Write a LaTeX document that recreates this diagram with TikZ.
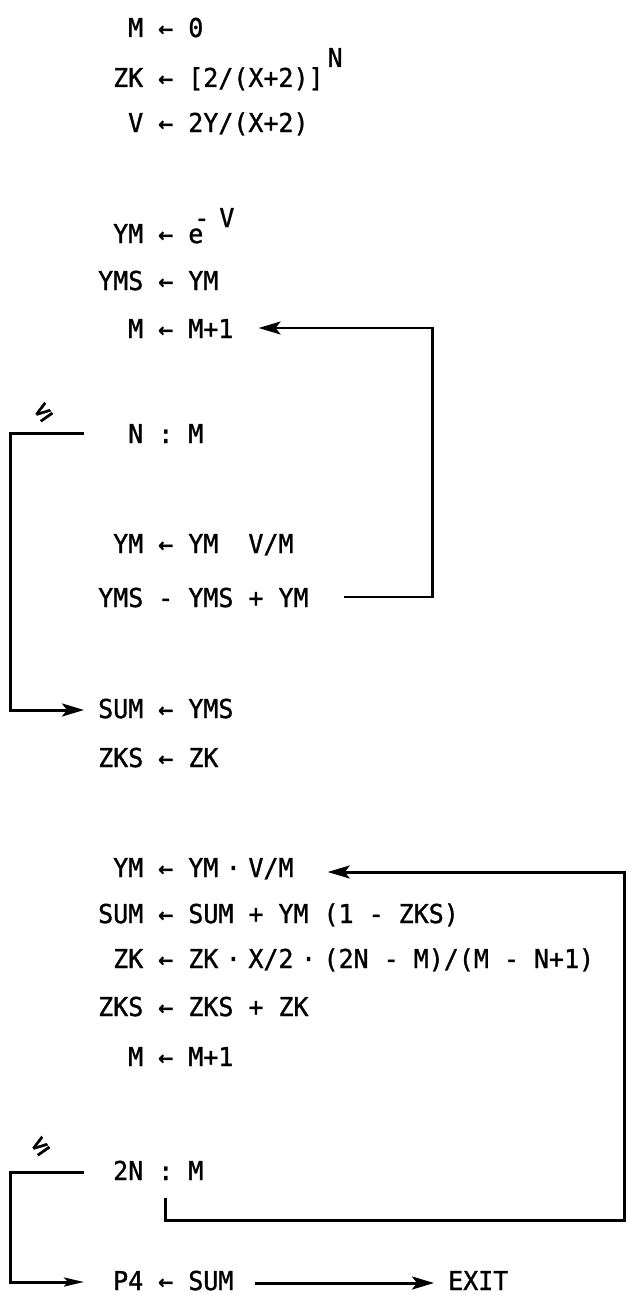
\documentclass[tikz,border=0pt]{standalone}
\usepackage{fontspec}
\setmonofont{DejaVu Sans Mono}[FakeStretch=0.96,FakeBold=1.2]
\usetikzlibrary{arrows.meta,calc}
\newcommand\codefont{\ttfamily\fontsize{26pt}{30pt}\selectfont}
\newcommand\sdot{\hspace{-7.5pt} · \hspace{-7.5pt}}
\begin{document}
\begin{tikzpicture}[x=1pt,y=-1pt,
  txt/.style={anchor=base west,inner sep=0pt,font=\codefont},
  rel/.style={inner sep=0pt,font=\ttfamily\fontsize{28pt}{28pt}\selectfont,rotate=35},
  conn/.style={line width=3pt,line join=miter},
  thinconn/.style={line width=2.2pt,line join=miter},
  tip/.style={-{Stealth[length=22pt,width=13pt,inset=5pt]}},
  otip/.style={-{Stealth[open,length=20pt,width=9pt,inset=4pt]}}]
\useasboundingbox (0,0) rectangle (627,1295);

\node[txt] (l1) at (128,37) {M ← 0};
\node[txt] (l2) at (113,87) {ZK ← [2/(X+2)]\kern4pt\raisebox{20pt}{N}};
\node[txt] (l3) at (128,132) {V ← 2Y/(X+2)};
\node[txt] (l4) at (113,243) {YM ← e\raisebox{16pt}{\kern-9pt-\kern10pt V}};
\node[txt] (l5) at (98,290) {YMS ← YM};
\node[txt] (l6) at (128,338) {M ← M+1};
\node[txt] (l7) at (128,443) {N : M};
\node[txt] (l8) at (113,553) {YM ← YM\ \ V/M};
\node[txt] (l9) at (98,607) {YMS - YMS + YM};
\node[txt] (l10) at (98,718) {SUM ← YMS};
\node[txt] (l11) at (98,767) {ZKS ← ZK};
\node[txt] (l12) at (113,877) {YM ← YM\sdot V/M};
\node[txt] (l13) at (98,923) {SUM ← SUM + YM (1 - ZKS)};
\node[txt] (l14) at (113,968) {ZK ← ZK\sdot X/2\sdot (2N - M)/(M - N+1)};
\node[txt] (l15) at (98,1016) {ZKS ← ZKS + ZK};
\node[txt] (l16) at (128,1066) {M ← M+1};
\node[txt] (l17) at (113,1180) {2N : M};
\node[txt] (l18) at (113,1290) {P4 ← SUM};
\node[txt] (exit) at (448,1290) {EXIT};
\node[rel] (le1) at (43,412) {≤};
\node[rel] (le2) at (40,1146) {≤};

\coordinate (r2) at (624,1220);

% loop 1: back edge
\draw[thinconn,tip] ($(l9.base east)+(35,-10)$) -| ($(l6.base east)+(199,-10)$) -- ($(l6.base east)+(25,-10)$);
% loop 1: exit when N <= M
\draw[conn,tip] ($(l7.base west)+(-44,-10)$) -| ($(l10.base west)+(-88,-8)$) -- ($(l10.base west)+(-14,-8)$);
% loop 2: back edge
\draw[conn,tip] ($(l17.base west)+(52.5,18)$) |- (r2) |- ($(l12.base east)+(34,-5)$);
% loop 2: exit when 2N <= M
\draw[conn,otip] ($(l17.base west)+(-29,-8)$) -| ($(l18.base west)+(-103,-8)$) -- ($(l18.base west)+(-29,-8)$);
% to EXIT
\draw[conn,tip] ($(l18.base east)+(21,-7)$) -- ($(exit.base west)+(-14,-7)$);
\end{tikzpicture}
\end{document}
